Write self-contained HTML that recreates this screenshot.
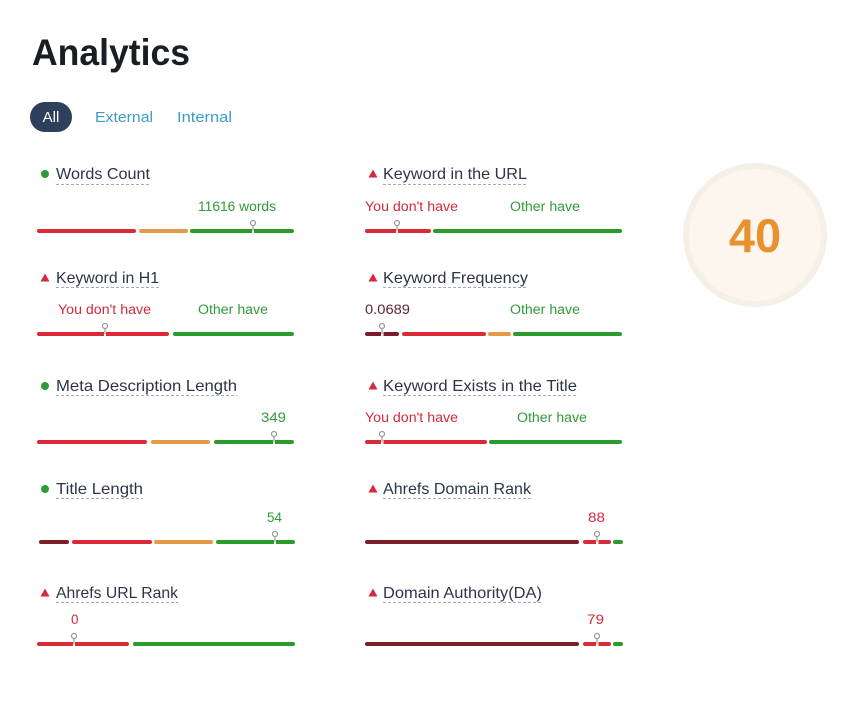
<!DOCTYPE html>
<html><head><meta charset="utf-8"><style>
html,body{margin:0;padding:0;background:#fff;}
svg{display:block;}
text{font-family:"Liberation Sans",Arial,sans-serif;}
.lbl{font-size:16px;fill:#2c3548;}
.val{font-size:13.5px;}
.g{fill:#2f9b35;}
.r{fill:#d42a3b;}
.m{fill:#5c2533;}
.ul{stroke:#a3abb8;stroke-width:1;stroke-dasharray:3 2;}
.mk{fill:#fff;stroke:#9a9a9a;stroke-width:1.2;}
.st{stroke:#9a9a9a;stroke-width:1.2;}
</style></head><body>
<svg width="860" height="704" viewBox="0 0 860 704" xmlns="http://www.w3.org/2000/svg">
<rect width="860" height="704" fill="#fff"/>
<text x="32" y="65" font-size="37" font-weight="bold" fill="#1a1d24" textLength="158" lengthAdjust="spacingAndGlyphs">Analytics</text>
<rect x="30" y="102" width="42" height="30" rx="15" fill="#2e3f5e"/>
<text x="51" y="122" font-size="15" fill="#fff" text-anchor="middle">All</text>
<text x="95" y="122" font-size="15" fill="#3d9cc6" textLength="58" lengthAdjust="spacingAndGlyphs">External</text>
<text x="177" y="122" font-size="15" fill="#3d9cc6" textLength="55" lengthAdjust="spacingAndGlyphs">Internal</text>

<!-- score circle -->
<circle cx="755" cy="235" r="72" fill="#f5efe7"/>
<circle cx="755" cy="235" r="66" fill="#fdf6ee"/>
<text x="755" y="252" font-size="47" font-weight="bold" fill="#e8922e" text-anchor="middle">40</text>

<!-- LEFT COLUMN -->
<circle cx="45" cy="174" r="4" fill="#2e9a3a"/>
<text class="lbl" x="56" y="179" textLength="94" lengthAdjust="spacingAndGlyphs">Words Count</text>
<line class="ul" x1="56" y1="184.5" x2="150" y2="184.5"/>
<text class="val g" x="198" y="211" textLength="78" lengthAdjust="spacingAndGlyphs">11616 words</text>
<rect x="37" y="229" width="99" height="4" rx="2" fill="#d92a35"/>
<rect x="139" y="229" width="49" height="4" rx="2" fill="#e49a47"/>
<rect x="190" y="229" width="104" height="4" rx="2" fill="#2c9b2c"/>
<rect x="252" y="228" width="2" height="6" fill="#fff"/>
<line class="st" x1="253" y1="225.5" x2="253" y2="231"/>
<circle class="mk" cx="253" cy="223" r="2.5"/>

<path d="M45 273.5 L49.5 281.5 L40.5 281.5 Z" fill="#d42a3b"/>
<text class="lbl" x="56" y="283" textLength="103" lengthAdjust="spacingAndGlyphs">Keyword in H1</text>
<line class="ul" x1="56" y1="287.5" x2="159" y2="287.5"/>
<text class="val r" x="58" y="314" textLength="93" lengthAdjust="spacingAndGlyphs">You don't have</text>
<text class="val g" x="198" y="314" textLength="70" lengthAdjust="spacingAndGlyphs">Other have</text>
<rect x="37" y="332" width="132" height="4" rx="2" fill="#d92a35"/>
<rect x="173" y="332" width="121" height="4" rx="2" fill="#2c9b2c"/>
<rect x="104" y="331" width="2" height="6" fill="#fff"/>
<line class="st" x1="105" y1="328.5" x2="105" y2="334"/>
<circle class="mk" cx="105" cy="326" r="2.5"/>

<circle cx="45" cy="386" r="4" fill="#2e9a3a"/>
<text class="lbl" x="56" y="391" textLength="181" lengthAdjust="spacingAndGlyphs">Meta Description Length</text>
<line class="ul" x1="56" y1="395.5" x2="237" y2="395.5"/>
<text class="val g" x="261" y="422" textLength="25" lengthAdjust="spacingAndGlyphs">349</text>
<rect x="37" y="440" width="110" height="4" rx="2" fill="#d92a35"/>
<rect x="151" y="440" width="59" height="4" rx="2" fill="#e49a47"/>
<rect x="214" y="440" width="80" height="4" rx="2" fill="#2c9b2c"/>
<rect x="273" y="439" width="2" height="6" fill="#fff"/>
<line class="st" x1="274" y1="436.5" x2="274" y2="442"/>
<circle class="mk" cx="274" cy="434" r="2.5"/>

<circle cx="45" cy="489" r="4" fill="#2e9a3a"/>
<text class="lbl" x="56" y="494" textLength="87" lengthAdjust="spacingAndGlyphs">Title Length</text>
<line class="ul" x1="56" y1="498.5" x2="143" y2="498.5"/>
<text class="val g" x="267" y="522" textLength="15" lengthAdjust="spacingAndGlyphs">54</text>
<rect x="39" y="540" width="30" height="4" rx="2" fill="#7a1e2a"/>
<rect x="72" y="540" width="80" height="4" rx="2" fill="#d92a35"/>
<rect x="154" y="540" width="59" height="4" rx="2" fill="#e49a47"/>
<rect x="216" y="540" width="79" height="4" rx="2" fill="#2c9b2c"/>
<rect x="274" y="539" width="2" height="6" fill="#fff"/>
<line class="st" x1="275" y1="536.5" x2="275" y2="542"/>
<circle class="mk" cx="275" cy="534" r="2.5"/>

<path d="M45 588.5 L49.5 596.5 L40.5 596.5 Z" fill="#d42a3b"/>
<text class="lbl" x="56" y="598" textLength="122" lengthAdjust="spacingAndGlyphs">Ahrefs URL Rank</text>
<line class="ul" x1="56" y1="602.5" x2="178" y2="602.5"/>
<text class="val r" x="71" y="624">0</text>
<rect x="37" y="642" width="92" height="4" rx="2" fill="#d92a35"/>
<rect x="133" y="642" width="162" height="4" rx="2" fill="#2c9b2c"/>
<rect x="73" y="641" width="2" height="6" fill="#fff"/>
<line class="st" x1="74" y1="638.5" x2="74" y2="644"/>
<circle class="mk" cx="74" cy="636" r="2.5"/>

<!-- RIGHT COLUMN -->
<path d="M373 169.5 L377.5 177.5 L368.5 177.5 Z" fill="#d42a3b"/>
<text class="lbl" x="383" y="179" textLength="144" lengthAdjust="spacingAndGlyphs">Keyword in the URL</text>
<line class="ul" x1="383" y1="184.5" x2="527" y2="184.5"/>
<text class="val r" x="365" y="211" textLength="93" lengthAdjust="spacingAndGlyphs">You don't have</text>
<text class="val g" x="510" y="211" textLength="70" lengthAdjust="spacingAndGlyphs">Other have</text>
<rect x="365" y="229" width="66" height="4" rx="2" fill="#d92a35"/>
<rect x="433" y="229" width="189" height="4" rx="2" fill="#2c9b2c"/>
<rect x="396" y="228" width="2" height="6" fill="#fff"/>
<line class="st" x1="397" y1="225.5" x2="397" y2="231"/>
<circle class="mk" cx="397" cy="223" r="2.5"/>

<path d="M373 273.5 L377.5 281.5 L368.5 281.5 Z" fill="#d42a3b"/>
<text class="lbl" x="383" y="283" textLength="145" lengthAdjust="spacingAndGlyphs">Keyword Frequency</text>
<line class="ul" x1="383" y1="287.5" x2="528" y2="287.5"/>
<text class="val m" x="365" y="314" textLength="45" lengthAdjust="spacingAndGlyphs">0.0689</text>
<text class="val g" x="510" y="314" textLength="70" lengthAdjust="spacingAndGlyphs">Other have</text>
<rect x="365" y="332" width="34" height="4" rx="2" fill="#7a1e2a"/>
<rect x="402" y="332" width="84" height="4" rx="2" fill="#d92a35"/>
<rect x="488" y="332" width="23" height="4" rx="2" fill="#e49a47"/>
<rect x="513" y="332" width="109" height="4" rx="2" fill="#2c9b2c"/>
<rect x="381" y="331" width="2.5" height="6" fill="#fff"/>
<line class="st" x1="382" y1="328.5" x2="382" y2="334"/>
<circle class="mk" cx="382" cy="326" r="2.5"/>

<path d="M373 381.5 L377.5 389.5 L368.5 389.5 Z" fill="#d42a3b"/>
<text class="lbl" x="383" y="391" textLength="194" lengthAdjust="spacingAndGlyphs">Keyword Exists in the Title</text>
<line class="ul" x1="383" y1="395.5" x2="577" y2="395.5"/>
<text class="val r" x="365" y="422" textLength="93" lengthAdjust="spacingAndGlyphs">You don't have</text>
<text class="val g" x="517" y="422" textLength="70" lengthAdjust="spacingAndGlyphs">Other have</text>
<rect x="365" y="440" width="122" height="4" rx="2" fill="#d92a35"/>
<rect x="489" y="440" width="133" height="4" rx="2" fill="#2c9b2c"/>
<rect x="381" y="439" width="2.5" height="6" fill="#fff"/>
<line class="st" x1="382" y1="436.5" x2="382" y2="442"/>
<circle class="mk" cx="382" cy="434" r="2.5"/>

<path d="M373 484.5 L377.5 492.5 L368.5 492.5 Z" fill="#d42a3b"/>
<text class="lbl" x="383" y="494" textLength="148" lengthAdjust="spacingAndGlyphs">Ahrefs Domain Rank</text>
<line class="ul" x1="383" y1="498.5" x2="531" y2="498.5"/>
<text class="val r" x="588" y="522" textLength="17" lengthAdjust="spacingAndGlyphs">88</text>
<rect x="365" y="540" width="214" height="4" rx="2" fill="#7a1e2a"/>
<rect x="583" y="540" width="28" height="4" rx="2" fill="#d92a35"/>
<rect x="613" y="540" width="10" height="4" rx="2" fill="#2c9b2c"/>
<rect x="596" y="539" width="2.5" height="6" fill="#fff"/>
<line class="st" x1="597" y1="536.5" x2="597" y2="542"/>
<circle class="mk" cx="597" cy="534" r="2.5"/>

<path d="M373 588.5 L377.5 596.5 L368.5 596.5 Z" fill="#d42a3b"/>
<text class="lbl" x="383" y="598" textLength="159" lengthAdjust="spacingAndGlyphs">Domain Authority(DA)</text>
<line class="ul" x1="383" y1="602.5" x2="542" y2="602.5"/>
<text class="val r" x="587" y="624" textLength="17" lengthAdjust="spacingAndGlyphs">79</text>
<rect x="365" y="642" width="214" height="4" rx="2" fill="#7a1e2a"/>
<rect x="583" y="642" width="28" height="4" rx="2" fill="#d92a35"/>
<rect x="613" y="642" width="10" height="4" rx="2" fill="#2c9b2c"/>
<rect x="596" y="641" width="2.5" height="6" fill="#fff"/>
<line class="st" x1="597" y1="638.5" x2="597" y2="644"/>
<circle class="mk" cx="597" cy="636" r="2.5"/>
</svg>
</body></html>
